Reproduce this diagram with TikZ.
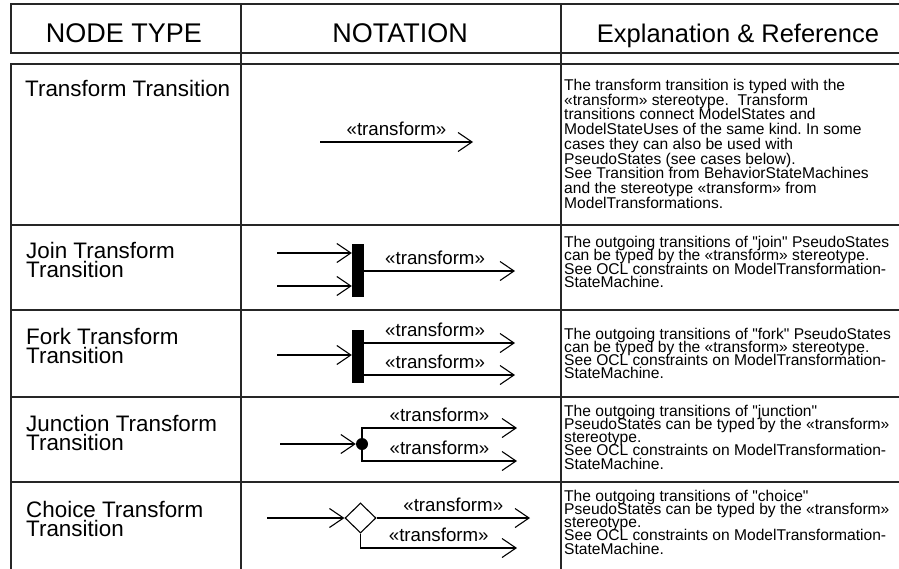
\documentclass[tikz,border=0pt]{standalone}
\usepackage{fontspec}
\setmainfont{Liberation Sans}[Ligatures=TeXOff]
\usetikzlibrary{arrows.meta,shapes.geometric,positioning}
\newcommand\ntfont{\fontsize{22.4}{19.5}\selectfont\lineskiplimit=-20pt\relax}
\newcommand\explfont{\fontsize{15.6}{13.3}\selectfont\lineskiplimit=-20pt\relax\frenchspacing}
\newcommand\explwidefont{\fontsize{15.6}{14.7}\selectfont\lineskiplimit=-20pt\relax\frenchspacing}
\tikzset{grid/.style={line width=1.3pt,black!85,line cap=rect},
  hd/.style={anchor=base,inner sep=0pt,font=\fontsize{25.5}{28}\selectfont},
  ntype/.style={anchor=north west,inner sep=0pt,align=left,font=\ntfont},
  expl/.style={anchor=north west,inner sep=0pt,align=left,font=\explfont},
  lbl/.style={above=6pt,inner sep=0pt,font=\fontsize{18.7}{20}\selectfont},
  bar/.style={rectangle,fill=black,minimum width=12pt,minimum height=53pt,inner sep=0pt},
  jdot/.style={circle,fill=black,minimum size=12pt,inner sep=0pt},
  choice/.style={diamond,draw,line width=1.1pt,minimum width=31pt,minimum height=30pt,inner sep=0pt},
  trans/.style={->,line width=1.1pt}}

\begin{document}
\begin{tikzpicture}[x=1pt,y=-1pt,>={Straight Barb[length=14pt,width=19pt]}]
    \useasboundingbox (0,0) rectangle (899,568);

    \draw[grid] (11,4) -- (899,4);
    \draw[grid] (11,53) -- (899,53);
    \draw[grid] (11,4) -- (11,53);
    \draw[grid] (11,64) -- (899,64);
    \draw[grid] (11,64) -- (11,568);
    \draw[grid] (241,4) -- (241,568);
    \draw[grid] (561,4) -- (561,568);
    \foreach \y in {225,310,482} \draw[grid] (11,\y) -- (899,\y);
    \draw[grid,line width=2.5pt] (11,397) -- (899,397);

    \node[hd,font=\fontsize{27}{28}\selectfont] (hdtype) at (124,42) {NODE TYPE};
    \node[hd,font=\fontsize{27}{28}\selectfont] (hdnot) at (400,42) {NOTATION};
    \node[hd] (hdexp) at (738,42) {Explanation \& Reference};

    \node[ntype] (nttrans) at (25,80) {Transform Transition};
    \node[ntype] (ntjoin) at (26,242) {Join Transform\\Transition};
    \node[ntype] (ntfork) at (26,328) {Fork Transform\\Transition};
    \node[ntype] (ntjunc) at (26,415) {Junction Transform\\Transition};
    \node[ntype] (ntchoice) at (26,501) {Choice Transform\\Transition};

    \node[expl,font=\explwidefont] (extrans) at (564,79) {The transform transition is typed with the\\«transform» stereotype.~ Transform\\transitions connect ModelStates and\\ModelStateUses of the same kind. In some\\cases they can also be used with\\PseudoStates (see cases below).\\See Transition from BehaviorStateMachines\\and the stereotype «transform» from\\ModelTransformations.};
    \node[expl] (exjoin) at (564,236) {The outgoing transitions of "join" PseudoStates\\can be typed by the «transform» stereotype.\\See OCL constraints on ModelTransformation-\\StateMachine.};
    \node[expl] (exfork) at (564,327.5) {The outgoing transitions of "fork" PseudoStates\\can be typed by the «transform» stereotype.\\See OCL constraints on ModelTransformation-\\StateMachine.};
    \node[expl] (exjunc) at (564,404.5) {The outgoing transitions of "junction"\\PseudoStates can be typed by the «transform»\\stereotype.\\See OCL constraints on ModelTransformation-\\StateMachine.};
    \node[expl] (exchoice) at (564,489.5) {The outgoing transitions of "choice"\\PseudoStates can be typed by the «transform»\\stereotype.\\See OCL constraints on ModelTransformation-\\StateMachine.};

    \coordinate (tin) at (320,142);
    \coordinate (tout) at (473,142);
    \draw [trans] (tin) to [] node[lbl]{«transform»} (tout);

    \node[bar] (joinbar) at (358,270.5) {};
    \coordinate (jin1) at (277,253);
    \coordinate (jin2) at (277,286);
    \coordinate (jout) at (515,271);
    \draw [trans] (jin1) to [] (joinbar.west |- jin1);
    \draw [trans] (jin2) to [] (joinbar.west |- jin2);
    \draw [trans] (joinbar.east |- jout) to [] node[lbl,pos=0.47]{«transform»} (jout);

    \node[bar] (forkbar) at (358,356.5) {};
    \coordinate (fin) at (277,355);
    \coordinate (fout1) at (515,343);
    \coordinate (fout2) at (515,375);
    \draw [trans] (fin) to [] (forkbar.west |- fin);
    \draw [trans] (forkbar.east |- fout1) to [] node[lbl,pos=0.47]{«transform»} (fout1);
    \draw [trans] (forkbar.east |- fout2) to [] node[lbl,pos=0.47]{«transform»} (fout2);

    \node[jdot] (juncdot) at (362,444) {};
    \coordinate (jcin) at (280,444);
    \coordinate (jcout1) at (517,428);
    \coordinate (jcout2) at (517,461);
    \draw [trans] (jcin) to [] (juncdot);
    \draw [trans] (juncdot) |- node[lbl,pos=0.75]{«transform»} (jcout1);
    \draw [trans] (juncdot) |- node[lbl,pos=0.75]{«transform»} (jcout2);

    \node[choice] (choicedia) at (360.5,518) {};
    \coordinate (cin) at (267,518);
    \coordinate (cout1) at (530,518);
    \coordinate (cout2) at (517,548);
    \draw [trans] (cin) to [] (choicedia);
    \draw [trans] (choicedia) to [] node[lbl]{«transform»} (cout1);
    \draw [trans] (choicedia.south) |- node[lbl,pos=0.75]{«transform»} (cout2);
\end{tikzpicture}
\end{document}
